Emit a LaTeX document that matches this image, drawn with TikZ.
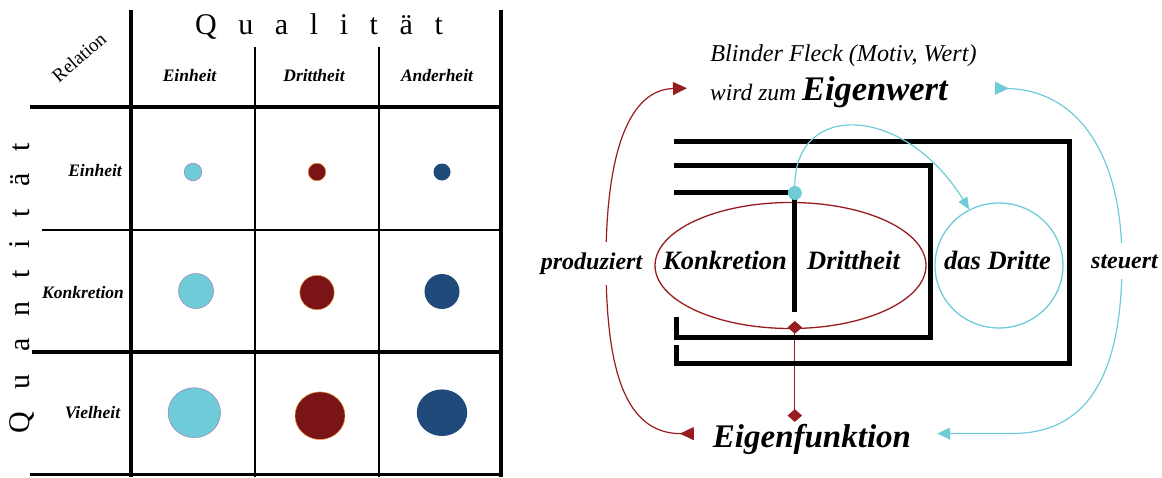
\documentclass[tikz,border=0pt]{standalone}
\usepackage{fontspec}
\setmainfont{Liberation Serif}
\usetikzlibrary{arrows.meta,shapes.geometric}
\definecolor{tuerkis}{HTML}{70CBD8}
\definecolor{dunkelrot}{HTML}{7B1416}
\definecolor{dunkelblau}{HTML}{1F4A7A}
\definecolor{pfeilrot}{HTML}{961C1F}
\definecolor{randlila}{HTML}{9A80B5}
\definecolor{randorange}{HTML}{E39A3A}

\begin{document}
\begin{tikzpicture}[x=1pt, y=-1pt,
  every node/.style={inner sep=0pt},
  dick/.style={line width=3.5pt},
  duenn/.style={line width=1.7pt},
  balken/.style={line width=5pt},
  kopf/.style={font=\fontsize{17.5}{20}\selectfont\bfseries\itshape, anchor=base},
  gross/.style={font=\fontsize{26.5}{30}\selectfont\bfseries\itshape, anchor=base},
  verb/.style={font=\fontsize{24}{28}\selectfont\bfseries\itshape, anchor=base, fill=white, inner xsep=2pt, inner ysep=11pt},
  sperr/.style={font=\fontsize{30}{36}\selectfont},
  rotpfeil/.style={draw=pfeilrot, line width=1.2pt},
  tuerkispfeil/.style={draw=tuerkis, line width=1.2pt}]
\useasboundingbox (0,0) rectangle (1162,477);

% Tabelle
\draw[dick] (131,10) -- (131,477);
\draw[dick] (501,10) -- (501,477);
\draw[duenn] (255,47) -- (255,477);
\draw[line width=2.7pt] (379,47) -- (379,477);
\draw[dick] (30,107) -- (503,107);
\draw[line width=2pt] (42,230) -- (502,230);
\draw[dick] (32,352) -- (503,352);
\draw[dick] (30,474.5) -- (503,474.5);

\node[sperr, anchor=base] (quali) at (319,34.3) {\spaceskip=21.6pt Q u a l i t ä t};
\node[sperr, rotate=90] (quanti) at (22,288) {\spaceskip=22.3pt Q u a n t i t ä t};
\node[rotate=41, font=\fontsize{19}{22}\selectfont] (rel) at (79,57) {Relation};

\node[kopf] (qlE) at (189.5,81) {Einheit};
\node[kopf] (qlD) at (314,81) {Drittheit};
\node[kopf] (qlA) at (437,81) {Anderheit};
\node[kopf] (qnE) at (95,176.7) {Einheit};
\node[kopf] (qnK) at (83,298) {Konkretion};
\node[kopf] (qnV) at (92.5,418) {Vielheit};

\filldraw[fill=tuerkis, draw=randlila, line width=.5pt] (193,172) circle (8.8pt);
\filldraw[fill=dunkelrot, draw=randorange, line width=.5pt] (317,172) circle (8.8pt);
\fill[dunkelblau] (442,172) circle (8.5pt);
\filldraw[fill=tuerkis, draw=randlila, line width=.5pt] (196,291) circle (17.5pt);
\filldraw[fill=dunkelrot, draw=randorange, line width=.5pt] (317,292.5) circle (17.2pt);
\fill[dunkelblau] (442,291.5) circle (17.5pt);
\filldraw[fill=tuerkis, draw=randlila, line width=.5pt] (194.3,412.7) ellipse (26.2pt and 25pt);
\filldraw[fill=dunkelrot, draw=randorange, line width=.5pt] (320,415.7) ellipse (25pt and 23.8pt);
\fill[dunkelblau] (442,412.7) ellipse (25.2pt and 23.3pt);

% Schema rechts
\node[anchor=base, font=\fontsize{24.2}{28}\selectfont\itshape] (fleck) at (843.5,61.7) {Blinder Fleck (Motiv, Wert)};
\node[anchor=base west, font=\fontsize{23.5}{28}\selectfont\itshape] (wert) at (710,100) {wird zum {\fontsize{34.5}{40}\selectfont\bfseries Eigenwert}};
\node[anchor=base, font=\fontsize{33}{40}\selectfont\bfseries\itshape] (efunk) at (812,447.7) {Eigenfunktion};

\node[ellipse, draw=pfeilrot, line width=1.3pt, minimum width=271pt, minimum height=126pt] (oval) at (790.5,265.5) {};
\node[ellipse, draw=tuerkis, line width=1.3pt, minimum width=128pt, minimum height=125pt] (kreis) at (999,265.5) {};

\draw[rotpfeil, {Diamond[length=12.7pt,width=14.5pt]}-{Diamond[length=12.7pt,width=14.5pt]}, shorten <=-7.5pt, shorten >=3pt] (794.8,328.5) -- (794.8,424.9);

\draw[balken] (674,141.7) -- (1069,141.7) -- (1069,363.7) -- (676.5,363.7) -- (676.5,345);
\draw[balken] (674,165.8) -- (930.5,165.8) -- (930.5,337.8) -- (676.5,337.8) -- (676.5,317.3);
\draw[balken] (674,192.5) -- (794.8,192.5) -- (794.8,311.7);

\node[circle, fill=tuerkis, minimum size=14pt] (punkt) at (794.8,193) {};
\draw[tuerkispfeil, -{Triangle[length=12pt,width=10pt]}] (punkt) .. controls (795,100) and (905,105) .. (kreis.118);

\node[gross] (konkr) at (725,269.3) {Konkretion};
\node[gross] (dritth) at (853.5,269.3) {Drittheit};
\node[gross] (dritte) at (997.5,269.3) {das Dritte};

\draw[rotpfeil, {Triangle[reversed,length=14pt,width=13pt]}-{Triangle[length=14pt,width=13pt]}] ([xshift=-19pt,yshift=6pt]efunk.west) .. controls (625,434) and (606,370) .. (606,262) .. controls (606,150) and (630,89.5) .. ([xshift=-23pt,yshift=3.5pt]wert.west);
\draw[tuerkispfeil, {Triangle[length=13pt,width=12pt]}-{Triangle[reversed,length=14pt,width=13pt]}] ([xshift=26pt,yshift=6pt]efunk.east) -- (1012,433.5) .. controls (1070,433.5) and (1122,400) .. (1122,262) .. controls (1122,150) and (1075,90) .. ([xshift=47pt,yshift=3.5pt]wert.east);

\node[verb] (prod) at (591.5,269.3) {produziert};
\node[verb] (steu) at (1124.5,268) {steuert};
\end{tikzpicture}
\end{document}
